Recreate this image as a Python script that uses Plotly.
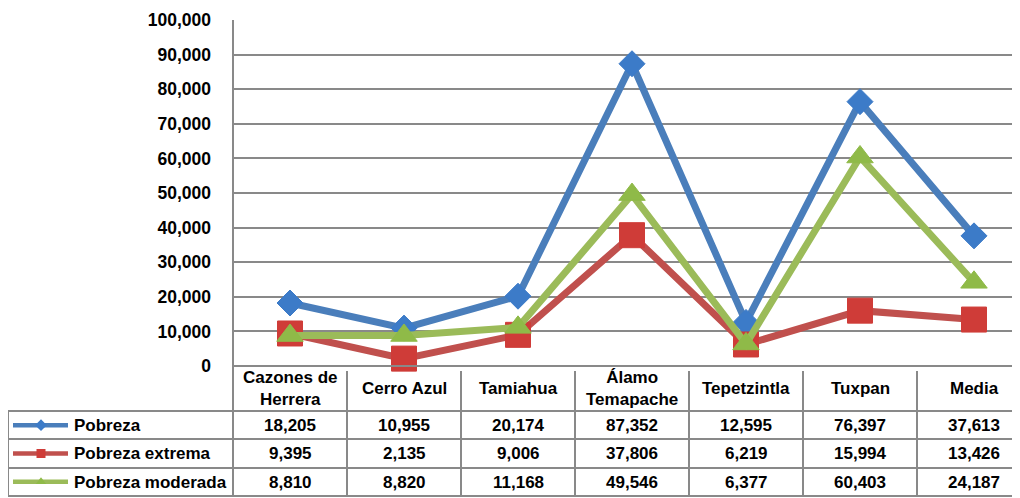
import plotly.graph_objects as go

categories = ["Cazones de<br>Herrera", "Cerro Azul", "Tamiahua", "Álamo<br>Temapache",
              "Tepetzintla", "Tuxpan", "Media"]
series_names = ["Pobreza", "Pobreza extrema", "Pobreza moderada"]
pobreza = [18205, 10955, 20174, 87352, 12595, 76397, 37613]
pobreza_extrema = [9395, 2135, 9006, 37806, 6219, 15994, 13426]
pobreza_moderada = [8810, 8820, 11168, 49546, 6377, 60403, 24187]
y_ticks = [0, 10000, 20000, 30000, 40000, 50000, 60000, 70000, 80000, 90000, 100000]

W, H = 1020, 498
OFF = 8  # page body margin
colors = ["#4a7ebb", "#c0504d", "#9bbb59"]
marker_colors = ["#3c7bc8", "#cf3c38", "#8fba48"]
symbols = ["diamond", "square", "triangle-up"]
msizes = [20, 25, 23]
values = [pobreza, pobreza_extrema, pobreza_moderada]

def fy(px):
    return 1 - (px - OFF) / H

def fx(px):
    return (px - OFF) / W

PLOT_L, PLOT_T, AXIS_B = 233, 20, 366
ROWS = [411, 439, 468, 496]
LEG_L = 8
COL_W = 114.0
x_right = -0.5 + (W + OFF - PLOT_L) / COL_W

fig = go.Figure()
for name, vals, c, mc, sym, ms in zip(series_names, values, colors, marker_colors, symbols, msizes):
    fig.add_trace(go.Scatter(
        x=list(range(len(categories))), y=vals, name=name, mode="lines+markers",
        line=dict(color=c, width=7),
        marker=dict(symbol=sym, size=ms, color=mc, line=dict(color=mc, width=1)),
        cliponaxis=False, showlegend=False, xaxis="x", yaxis="y"))

# legend keys in the data-table legend column
for i, (name, c, mc, sym) in enumerate(zip(series_names, colors, marker_colors, symbols)):
    yc = 2.5 - i
    fig.add_trace(go.Scatter(
        x=[5, 60], y=[yc, yc], mode="lines", line=dict(color=c, width=4.5),
        showlegend=False, hoverinfo="skip", xaxis="x2", yaxis="y2"))
    fig.add_trace(go.Scatter(
        x=[33], y=[yc], mode="markers",
        marker=dict(symbol=sym, size=9, color=mc),
        showlegend=False, hoverinfo="skip", xaxis="x2", yaxis="y2"))

font = dict(family="Liberation Sans, Arial, sans-serif", size=17, color="#000000", weight="bold")
grid = "#898989"

fig.update_layout(
    width=W, height=H, margin=dict(l=0, r=0, t=0, b=0, autoexpand=False),
    paper_bgcolor="white", plot_bgcolor="rgba(0,0,0,0)",
    xaxis=dict(domain=[fx(PLOT_L), 1], range=[-0.5, x_right], showgrid=False, automargin=False,
               showticklabels=False, zeroline=False, showline=False, fixedrange=True),
    yaxis=dict(domain=[fy(AXIS_B), fy(PLOT_T)], range=[0, 100000], tickvals=y_ticks,
               tickformat=",d", tickfont=dict(family=font["family"], size=17.5, color="#000", weight="bold"),
               showgrid=True, gridcolor=grid, gridwidth=1.6, zeroline=False, automargin=False,
               showline=False, ticks="", ticklabelstandoff=21),
    xaxis2=dict(domain=[fx(LEG_L), fx(PLOT_L)], range=[0, PLOT_L - LEG_L], visible=False,
                anchor="y2", automargin=False),
    yaxis2=dict(domain=[fy(ROWS[-1]), fy(ROWS[0])], range=[0, 3], visible=False, anchor="x2",
                automargin=False),
)

shapes = []
line_style = dict(color=grid, width=2)
# axis line / left border through the table
shapes.append(dict(type="line", xref="paper", yref="paper", x0=fx(PLOT_L), x1=fx(PLOT_L),
                   y0=fy(ROWS[-1]), y1=fy(PLOT_T), line=line_style))
# horizontal axis line (top of table)
shapes.append(dict(type="line", xref="paper", yref="paper", x0=fx(PLOT_L), x1=1,
                   y0=fy(AXIS_B), y1=fy(AXIS_B), line=line_style))
# table row lines
for r in ROWS:
    shapes.append(dict(type="line", xref="paper", yref="paper", x0=fx(LEG_L), x1=1,
                       y0=fy(r), y1=fy(r), line=line_style))
# legend column left border
shapes.append(dict(type="line", xref="paper", yref="paper", x0=fx(LEG_L), x1=fx(LEG_L),
                   y0=fy(ROWS[-1]), y1=fy(ROWS[0]), line=line_style))
# column separators
for i in range(len(categories) - 1):
    shapes.append(dict(type="line", xref="x", yref="paper", x0=i + 0.5, x1=i + 0.5,
                       y0=fy(ROWS[-1]), y1=fy(AXIS_B + 5), line=line_style))
fig.update_layout(shapes=shapes)

ann = []
for i, cat in enumerate(categories):
    ann.append(dict(xref="x", yref="paper", x=i, y=fy((AXIS_B + ROWS[0]) / 2), text=cat,
                    showarrow=False, font=font, align="center", xanchor="center", yanchor="middle"))
row_centers = [(ROWS[k] + ROWS[k + 1]) / 2 for k in range(3)]
for k, vals in enumerate(values):
    for i, v in enumerate(vals):
        ann.append(dict(xref="x", yref="paper", x=i, y=fy(row_centers[k]), text=f"{v:,}",
                        showarrow=False, font=font, xanchor="center", yanchor="middle"))
    ann.append(dict(xref="paper", yref="paper", x=fx(72), y=fy(row_centers[k]),
                    text=series_names[k], showarrow=False, font=font,
                    xanchor="left", yanchor="middle"))
fig.update_layout(annotations=ann)

fig.write_html("out.html")
